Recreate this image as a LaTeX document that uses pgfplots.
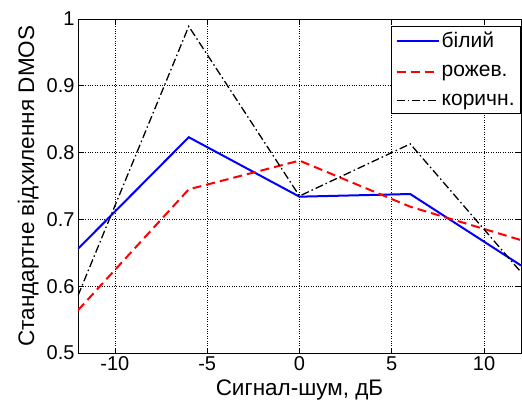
\documentclass[border=0pt]{standalone}
\usepackage{fontspec}
\setmainfont{Liberation Sans}
\usepackage{pgfplots}
\pgfplotsset{compat=1.18}

\begin{document}
\begin{tikzpicture}
\begin{axis}[
    scale only axis,
    width=443pt,
    height=334pt,
    xmin=-12, xmax=12,
    ymin=0.5, ymax=1,
    xtick={-10,-5,0,5,10},
    ytick={0.5,0.6,0.7,0.8,0.9,1},
    yticklabels={0.5,0.6,0.7,0.8,0.9,1},
    /pgf/number format/assume math mode=true,
    tick label style={font=\fontsize{20}{24}\selectfont},
    label style={font=\fontsize{22.5}{27}\selectfont},
    xlabel={Сигнал-шум, дБ},
    ylabel={Стандартне відхилення DMOS},
    xlabel style={yshift=-2pt},
    ylabel style={yshift=1pt},
    tick align=inside,
    major tick length=5pt,
    tick style={black, line width=0.6pt},
    axis line style={black, line width=0.8pt},
    grid=major,
    grid style={black, dotted, line width=0.7pt},
    legend style={at={(1,0.979)}, anchor=north east, draw=black, line width=0.8pt,
        font=\fontsize{21}{25}\selectfont, row sep=12pt, inner sep=4pt},
    legend cell align=left,
    legend image code/.code={\draw[#1] (0cm,0cm) -- (42pt,0cm);},
]
\addplot[blue, line width=2pt] coordinates {(-12,0.656) (-6,0.823) (0,0.734) (6,0.738) (12,0.631)};
\addplot[red, line width=2pt, dash pattern=on 9pt off 5pt] coordinates {(-12,0.564) (-6,0.745) (0,0.788) (6,0.719) (12,0.669)};
\addplot[black, line width=1.3pt, dash pattern=on 8pt off 3pt on 1.5pt off 3pt] coordinates {(-12,0.586) (-6,0.989) (0,0.735) (6,0.813) (12,0.621)};
\legend{білий, рожев., коричн.}
\end{axis}
\path (current axis.south west) ++(-78pt,-51pt) rectangle ++(522pt,404pt);
\end{tikzpicture}
\end{document}
